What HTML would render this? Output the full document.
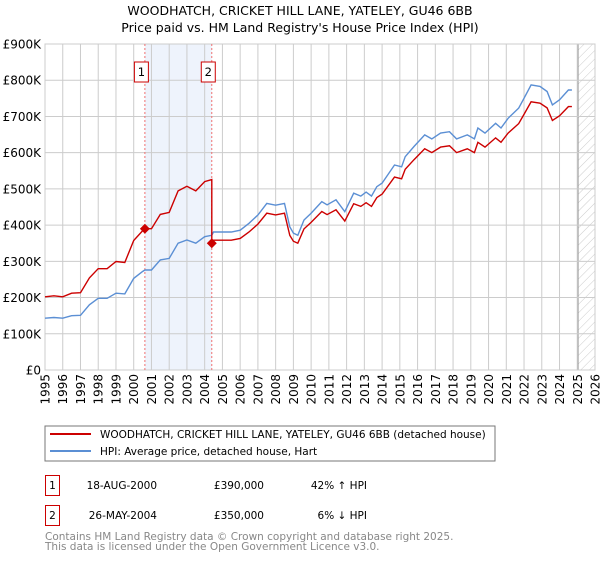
<!DOCTYPE html>
<html><head><meta charset="utf-8">
<style>
body{margin:0;background:#fff;font-family:"DejaVu Sans","Liberation Sans",sans-serif;}
svg text{font-family:"DejaVu Sans","Liberation Sans",sans-serif;}
</style></head>
<body>
<svg id="c" width="600" height="560" xmlns="http://www.w3.org/2000/svg">
<defs><pattern id="hatch" width="6" height="6" patternUnits="userSpaceOnUse" patternTransform="rotate(45)"><line x1="0" y1="0" x2="0" y2="6" stroke="#ccc" stroke-width="1"/></pattern></defs>
<text x="300" y="15" text-anchor="middle" font-size="12.5" fill="#000">WOODHATCH, CRICKET HILL LANE, YATELEY, GU46 6BB</text>
<text x="300" y="32" text-anchor="middle" font-size="12.5" fill="#000">Price paid vs. HM Land Registry's House Price Index (HPI)</text>
<g id="grid"></g><g id="marks"></g><g id="axes"></g>
<rect x="45" y="426" width="450" height="35" fill="#fff" stroke="#777"/>
<line x1="50" y1="434" x2="91" y2="434" stroke="#cc0000" stroke-width="2"/>
<text x="100" y="438" font-size="10.5">WOODHATCH, CRICKET HILL LANE, YATELEY, GU46 6BB (detached house)</text>
<line x1="50" y1="451" x2="91" y2="451" stroke="#5b8fd4" stroke-width="2"/>
<text x="100" y="455" font-size="10.5">HPI: Average price, detached house, Hart</text>
<g font-size="10.5" fill="#000">
<rect x="45.5" y="475.5" width="14" height="20" fill="none" stroke="#cc0000"/>
<text x="52.5" y="489" text-anchor="middle">1</text>
<text x="157" y="489" text-anchor="end">18-AUG-2000</text>
<text x="264" y="489" text-anchor="end">£390,000</text>
<text x="367" y="489" text-anchor="end">42% ↑ HPI</text>
<rect x="45.5" y="505.5" width="14" height="20" fill="none" stroke="#cc0000"/>
<text x="52.5" y="519" text-anchor="middle">2</text>
<text x="157" y="519" text-anchor="end">26-MAY-2004</text>
<text x="264" y="519" text-anchor="end">£350,000</text>
<text x="367" y="519" text-anchor="end">6% ↓ HPI</text>
</g>
<text x="45" y="540" font-size="10.5" fill="#888">Contains HM Land Registry data © Crown copyright and database right 2025.</text>
<text x="45" y="550" font-size="10.5" fill="#888">This data is licensed under the Open Government Licence v3.0.</text>
</svg>
<script>
const hpiYears=[1995,1995.5,1996,1996.5,1997,1997.5,1998,1998.5,1999,1999.5,2000,2000.5,2000.63,2001,2001.5,2002,2002.5,2003,2003.5,2004,2004.4,2004.5,2005,2005.5,2006,2006.5,2007,2007.5,2008,2008.5,2008.8,2009,2009.25,2009.6,2010,2010.6,2010.9,2011.4,2011.9,2012.4,2012.8,2013.1,2013.4,2013.7,2014,2014.7,2015.1,2015.3,2015.8,2016.4,2016.8,2017.3,2017.8,2018.2,2018.8,2019.2,2019.4,2019.8,2020.4,2020.7,2021.1,2021.7,2022,2022.4,2022.9,2023.3,2023.6,2024,2024.5,2024.7];
const hpiValues=[143,145,143,150,151,180,198,198,212,210,253,272,276,276,304,308,350,359,350,368,372,381,381,381,386,405,428,460,455,460,395,378,372,414,433,465,456,470,437,488,480,491,480,506,516,566,561,589,617,649,638,654,658,638,649,638,668,654,681,668,695,723,750,787,783,769,732,746,773,773];
const saleYears=[2000.63,2004.4];
const salePrices=[390,350];
const yTicks=[0,100,200,300,400,500,600,700,800,900];
const yTickLabels=["£0","£100K","£200K","£300K","£400K","£500K","£600K","£700K","£800K","£900K"];
const xTicks=[1995,1996,1997,1998,1999,2000,2001,2002,2003,2004,2005,2006,2007,2008,2009,2010,2011,2012,2013,2014,2015,2016,2017,2018,2019,2020,2021,2022,2023,2024,2025,2026];
const dataEnd=2025.04;
const X0=45,X1=595,Y0=370,Y1=44;
const xs=y=>X0+(y-1995)/(2026-1995)*(X1-X0);
const ys=v=>Y0-v/900*(Y0-Y1);
const NS="http://www.w3.org/2000/svg";
function mk(tag,attrs,parent){const e=document.createElementNS(NS,tag);for(const k in attrs)e.setAttribute(k,attrs[k]);parent.appendChild(e);return e;}
const grid=document.getElementById('grid'),marks=document.getElementById('marks'),axes=document.getElementById('axes');
let band=mk('rect',{x:xs(saleYears[0]),y:Y1,width:xs(saleYears[1])-xs(saleYears[0]),height:Y0-Y1,fill:'#eef3fc'},grid);


let hat=mk('rect',{x:xs(dataEnd),y:Y1,width:X1-xs(dataEnd),height:Y0-Y1,fill:'url(#hatch)'},grid);


mk('line',{x1:xs(dataEnd),y1:Y1,x2:xs(dataEnd),y2:Y0,stroke:'#999','stroke-width':1.2},grid);
yTicks.forEach((t,i)=>{
  mk('line',{x1:X0,x2:X1,y1:ys(t),y2:ys(t),stroke:'#ccc','stroke-width':1},grid);
  const tx=mk('text',{x:X0-4,y:ys(t)+4.5,'text-anchor':'end','font-size':12},axes);
  tx.textContent=yTickLabels[i];
  
  
});
xTicks.forEach(t=>{
  mk('line',{x1:xs(t),x2:xs(t),y1:Y1,y2:Y0,stroke:'#ccc','stroke-width':1},grid);
  const tx=mk('text',{x:0,y:0,'text-anchor':'end','font-size':12,transform:`translate(${xs(t)+4.5},374) rotate(-90)`},axes);
  tx.textContent=t;
  
  
});
mk('rect',{x:X0,y:Y1,width:X1-X0,height:Y0-Y1,fill:'none',stroke:'#ccc'},grid);
saleYears.forEach((s,i)=>{
  mk('line',{x1:xs(s),x2:xs(s),y1:Y1,y2:Y0,stroke:'#f07070','stroke-width':1,'stroke-dasharray':'2,2'},grid);
  const b=mk('rect',{x:xs(s)-10.5,y:62,width:14,height:20,fill:'#fff',stroke:'#cc0000'},marks);
  
  
  const t=mk('text',{x:xs(s)-3.5,y:76,'text-anchor':'middle','font-size':11.5},marks);
  t.textContent=String(i+1);
});
let d='';hpiYears.forEach((y,i)=>{d+=(i?'L':'M')+xs(y).toFixed(1)+','+ys(hpiValues[i]).toFixed(1);});
let hp=mk('path',{d:d,fill:'none',stroke:'#5b8fd4','stroke-width':1.4},marks);


function hpiAt(y){for(let i=1;i<hpiYears.length;i++){if(y<=hpiYears[i]){const f=(y-hpiYears[i-1])/(hpiYears[i]-hpiYears[i-1]);return hpiValues[i-1]+f*(hpiValues[i]-hpiValues[i-1]);}}return hpiValues[hpiValues.length-1];}
const r1=salePrices[0]/hpiAt(saleYears[0]),r2=salePrices[1]/hpiAt(saleYears[1]);
let pd='';
hpiYears.forEach((y,i)=>{if(y<saleYears[1]){pd+=(pd?'L':'M')+xs(y).toFixed(1)+','+ys(hpiValues[i]*r1).toFixed(1);}});
pd+='L'+xs(saleYears[1]).toFixed(1)+','+ys(hpiAt(saleYears[1])*r1).toFixed(1);
hpiYears.forEach((y,i)=>{if(y>=saleYears[1]){pd+='L'+xs(y).toFixed(1)+','+ys(hpiValues[i]*r2).toFixed(1);}});
let pl=mk('path',{d:pd,fill:'none',stroke:'#cc0000','stroke-width':1.4},marks);


saleYears.forEach((s,i)=>{
  const cx=xs(s),cy=ys(salePrices[i]);
  const p=mk('path',{d:`M${cx-5},${cy}L${cx},${cy-5}L${cx+5},${cy}L${cx},${cy+5}Z`,fill:'#cc0000'},marks);
  
  
});
</script>
</body></html>
